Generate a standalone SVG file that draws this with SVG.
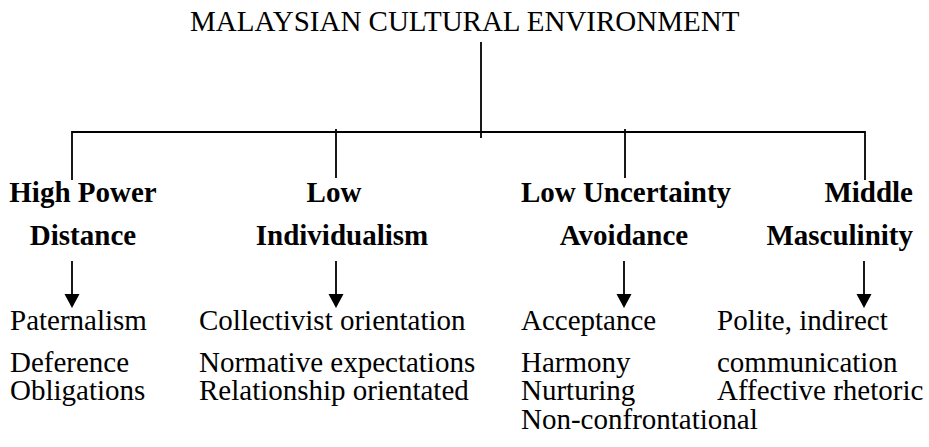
<svg xmlns="http://www.w3.org/2000/svg" width="929" height="447" viewBox="0 0 929 447">
  <style>
    text { font-family: "Liberation Serif", "Times New Roman", Times, serif; font-size: 29px; fill: #000; }
    .head { font-weight: bold; }
    .line { stroke: #000; stroke-width: 1.8; fill: none; }
  </style>
  <rect width="929" height="447" fill="#fff"/>

  <!-- root -->
  <g id="root">
    <text x="190" y="31">MALAYSIAN CULTURAL ENVIRONMENT</text>
  </g>

  <!-- tree lines and arrows -->
  <g id="connectors">
    <line class="line" x1="481" y1="42" x2="481" y2="138"/>
    <line class="line" x1="72" y1="132" x2="865" y2="132"/>
    <line class="line" x1="72" y1="131" x2="72" y2="180"/>
    <line class="line" x1="336" y1="129" x2="336" y2="178"/>
    <line class="line" x1="625" y1="129" x2="625" y2="178"/>
    <line class="line" x1="865" y1="131" x2="865" y2="180"/>
    <path d="M72,261 V294" class="line"/>
    <path d="M64.5,294 H79.5 L72,308 Z" fill="#000"/>
    <path d="M336,261 V294" class="line"/>
    <path d="M328.5,294 H343.5 L336,308 Z" fill="#000"/>
    <path d="M624,261 V294" class="line"/>
    <path d="M616.5,294 H631.5 L624,308 Z" fill="#000"/>
    <path d="M864,261 V294" class="line"/>
    <path d="M856.5,294 H871.5 L864,308 Z" fill="#000"/>
  </g>

  <g id="power-distance">
    <text class="head" x="83" y="202" text-anchor="middle">High Power</text>
    <text class="head" x="83" y="245" text-anchor="middle">Distance</text>
    <text x="10" y="330">Paternalism</text>
    <text x="10" y="372">Deference</text>
    <text x="10" y="400">Obligations</text>
  </g>

  <g id="individualism">
    <text class="head" x="334" y="202" text-anchor="middle">Low</text>
    <text class="head" x="342" y="245" text-anchor="middle">Individualism</text>
    <text x="199" y="330">Collectivist orientation</text>
    <text x="199" y="372">Normative expectations</text>
    <text x="199" y="400">Relationship orientated</text>
  </g>

  <g id="uncertainty-avoidance">
    <text class="head" x="626" y="202" text-anchor="middle">Low Uncertainty</text>
    <text class="head" x="624" y="245" text-anchor="middle">Avoidance</text>
    <text x="521" y="330">Acceptance</text>
    <text x="521" y="372">Harmony</text>
    <text x="521" y="400">Nurturing</text>
    <text x="521" y="429">Non-confrontational</text>
  </g>

  <g id="masculinity">
    <text class="head" x="913" y="202" text-anchor="end">Middle</text>
    <text class="head" x="913" y="245" text-anchor="end">Masculinity</text>
    <text x="717" y="330">Polite, indirect</text>
    <text x="717" y="372">communication</text>
    <text x="717" y="400">Affective rhetoric</text>
  </g>
</svg>
